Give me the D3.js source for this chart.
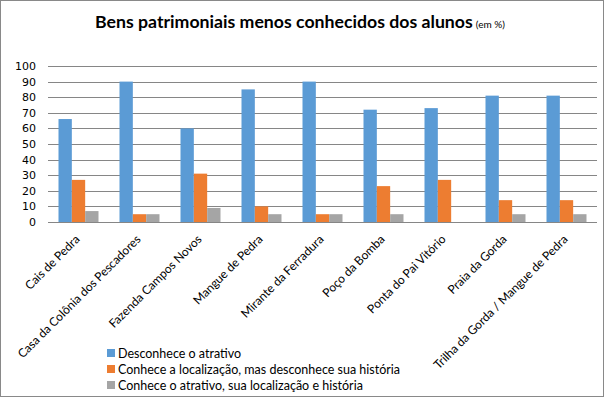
<!DOCTYPE html>
<html>
<head>
<meta charset="utf-8">
<script src="https://cdn.jsdelivr.net/npm/d3@7"></script>
<style>
  body { margin: 0; background: #fff; }
  svg { display: block; }
</style>
</head>
<body>
<div id="chart"></div>
<script>
var width = 604, height = 397;

var categories = ['Cais de Pedra', 'Casa da Colônia dos Pescadores', 'Fazenda Campos Novos',
    'Mangue de Pedra', 'Mirante da Ferradura', 'Poço da Bomba', 'Ponta do Pai Vitório',
    'Praia da Gorda', 'Trilha da Gorda / Mangue de Pedra'];
var seriesNames = ['Desconhece o atrativo',
    'Conhece a localização, mas desconhece sua história',
    'Conhece o atrativo, sua localização e  história'];
var desconhece = [66, 90, 60, 85, 90, 72, 73, 81, 81];
var conheceLocal = [27, 5, 31, 10, 5, 23, 27, 14, 14];
var conheceTudo = [7, 5, 9, 5, 5, 5, 0, 5, 5];
var yTicks = [0, 10, 20, 30, 40, 50, 60, 70, 80, 90, 100];
var colors = ['#5b9bd5', '#ed7d31', '#a5a5a5'];

var seriesValues = [desconhece, conheceLocal, conheceTudo];

// plot area (note: "top" is a window global, so use other names)
var plotLeft = 48, plotRight = 597, plotTop = 66, plotBottom = 222;

var svg = d3.select('#chart').append('svg')
    .attr('width', width)
    .attr('height', height);

// chart border
svg.append('rect')
    .attr('x', 0.5).attr('y', 0.5)
    .attr('width', width - 1).attr('height', height - 1)
    .attr('fill', 'white').attr('stroke', '#898989');

var x0 = d3.scaleBand().domain(categories).range([plotLeft, plotRight]).padding(0);
var groupW = 40;
var x1 = d3.scaleBand().domain(d3.range(3))
    .range([(x0.step() - groupW) / 2, (x0.step() + groupW) / 2]);
var y = d3.scaleLinear().domain([0, 100]).range([plotBottom, plotTop]);

// gridlines
svg.append('g')
    .selectAll('line')
    .data(yTicks)
    .join('line')
    .attr('x1', plotLeft).attr('x2', plotRight)
    .attr('y1', d => Math.round(y(d)) + 0.5).attr('y2', d => Math.round(y(d)) + 0.5)
    .attr('stroke', '#868686').attr('stroke-width', 1);

// y labels
svg.append('g')
    .selectAll('text')
    .data(yTicks)
    .join('text')
    .attr('x', 36).attr('y', d => y(d) + 4)
    .attr('text-anchor', 'end')
    .attr('font-family', 'DejaVu Sans, sans-serif')
    .attr('font-size', 11)
    .attr('fill', '#000')
    .text(d => d);

// bars
var groups = svg.append('g')
    .selectAll('g')
    .data(categories)
    .join('g')
    .attr('transform', d => 'translate(' + x0(d) + ',0)');

groups.selectAll('rect')
    .data((d, i) => seriesValues.map((s, k) => ({ k: k, v: s[i] })))
    .join('rect')
    .attr('x', d => x1(d.k))
    .attr('width', x1.bandwidth())
    .attr('y', d => y(d.v))
    .attr('height', d => y(0) - y(d.v))
    .attr('fill', d => colors[d.k]);

// category labels
svg.append('g')
    .selectAll('text')
    .data(categories)
    .join('text')
    .attr('text-anchor', 'end')
    .attr('font-family', 'Lato, sans-serif')
    .attr('font-size', 12)
    .attr('fill', '#000')
    .attr('transform', d => 'translate(' + (x0(d) + x0.step() / 2 + 2) + ',' + 240 + ') rotate(-45)')
    .text(d => d);

// title
var title = svg.append('text')
    .attr('x', 95).attr('y', 28)
    .attr('font-family', 'Lato, sans-serif')
    .attr('fill', '#000');
title.append('tspan')
    .attr('font-size', 17.7).attr('font-weight', 'bold')
    .text('Bens patrimoniais menos conhecidos dos alunos');
title.append('tspan')
    .attr('font-size', 10).attr('dx', 3)
    .text('(em %)');

// legend
var legend = svg.append('g')
    .selectAll('g')
    .data(seriesNames)
    .join('g')
    .attr('transform', (d, i) => 'translate(107,' + (353 + i * 16) + ')');
legend.append('rect')
    .attr('x', 0).attr('y', -4)
    .attr('width', 8).attr('height', 8)
    .attr('fill', (d, i) => colors[i]);
legend.append('text')
    .attr('x', 11).attr('y', 4.5)
    .attr('font-family', 'Lato, sans-serif')
    .attr('font-size', 12.5)
    .attr('fill', '#000')
    .text(d => d);
</script>
</body>
</html>
